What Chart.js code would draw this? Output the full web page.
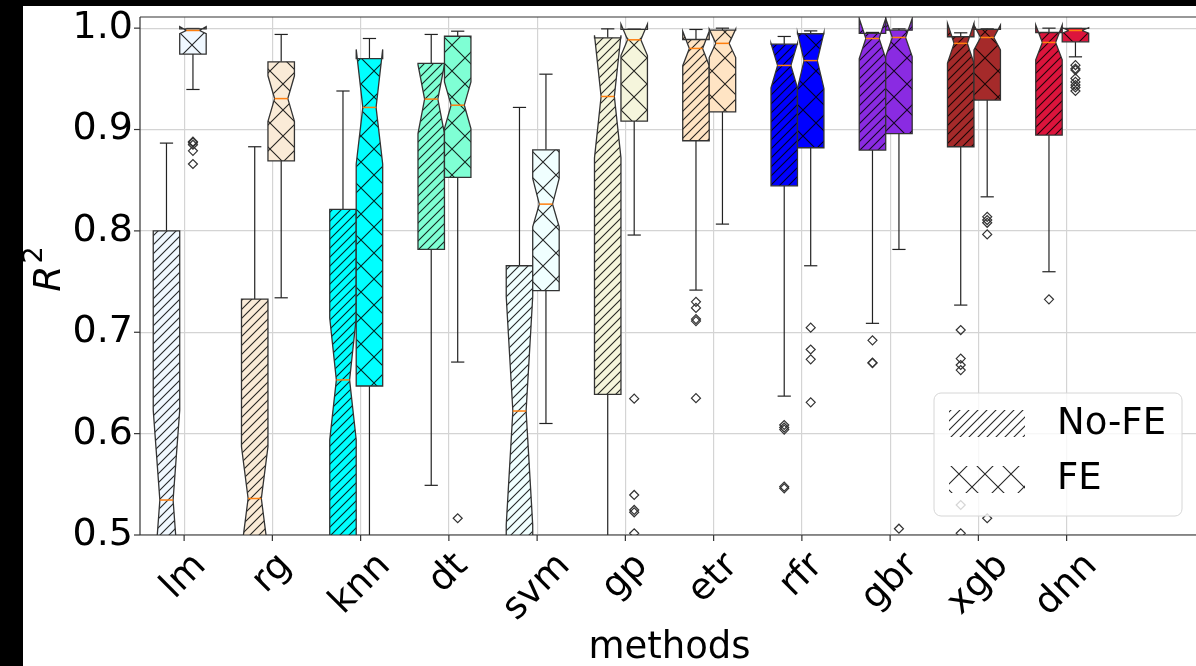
<!DOCTYPE html>
<html>
<head>
<meta charset="utf-8">
<title>R2 by method</title>
<script src="https://cdn.jsdelivr.net/npm/chart.js"></script>
<style>
  body { margin: 0; background: #000; overflow: hidden; width: 1196px; height: 666px; }
  .figure { position: absolute; left: 23px; top: 6px; width: 1200px; height: 660px; background: #fff; }
</style>
</head>
<body>
<div class="figure"><canvas id="myChart" width="1200" height="660"></canvas></div>
<script>
const methods = ["lm", "rg", "knn", "dt", "svm", "gp", "etr", "rfr", "gbr", "xgb", "dnn"];
const yTicks = [0.5, 0.6, 0.7, 0.8, 0.9, 1.0];

// No-FE boxes (whisker ends, quartiles, notch limits, median)
const noFeWhisLo = [0.05, 0.05, 0.1, 0.549, 0.1, 0.2, 0.7416, 0.637, 0.7088, 0.7268, 0.7597];
const noFeQ1 = [0.32, 0.3, 0.42, 0.7817, 0.35, 0.6388, 0.8889, 0.8445, 0.8797, 0.883, 0.8945];
const noFeCiLo = [0.446, 0.485, 0.594, 0.896, 0.51, 0.872, 0.963, 0.941, 0.97, 0.9654, 0.9688];
const noFeMed = [0.5345, 0.536, 0.653, 0.93, 0.6223, 0.9326, 0.98, 0.9632, 0.9898, 0.985, 0.9859];
const noFeCiHi = [0.623, 0.587, 0.714, 0.964, 0.735, 0.993, 0.997, 0.985, 1.0095, 1.0046, 1.003];
const noFeQ3 = [0.8, 0.7327, 0.8212, 0.9652, 0.7656, 0.9905, 0.9888, 0.9842, 0.9948, 0.9915, 0.9957];
const noFeWhisHi = [0.8866, 0.883, 0.938, 0.9938, 0.9218, 0.9993, 0.9987, 0.9918, 0.9958, 0.9954, 1.0];
const noFeOutliers = [[], [], [], [], [], [],
  [0.73, 0.724, 0.713, 0.711, 0.635],
  [0.6085, 0.606, 0.604, 0.5477, 0.546],
  [0.692, 0.67, 0.6696],
  [0.7022, 0.674, 0.6677, 0.6627, 0.5296, 0.5017],
  [0.7325]];

// FE boxes
const feWhisLo = [0.9395, 0.734, 0.2, 0.6706, 0.61, 0.7959, 0.8067, 0.7656, 0.7817, 0.8336, 0.9717];
const feQ1 = [0.9744, 0.869, 0.647, 0.8527, 0.741, 0.9083, 0.9175, 0.882, 0.896, 0.929, 0.9865];
const feCiLo = [0.9945, 0.908, 0.866, 0.901, 0.804, 0.973, 0.971, 0.9405, 0.972, 0.9786, 0.995];
const feMed = [0.9977, 0.9305, 0.9218, 0.924, 0.8264, 0.9885, 0.985, 0.968, 0.9908, 0.9908, 0.9977];
const feCiHi = [1.0015, 0.953, 0.979, 0.947, 0.8518, 1.004, 0.999, 0.9955, 1.0095, 1.003, 1.0005];
const feQ3 = [0.9993, 0.9668, 0.97, 0.992, 0.88, 0.9987, 0.998, 0.9945, 0.998, 0.9987, 0.9997];
const feWhisHi = [0.9997, 0.9938, 0.9898, 0.997, 0.9546, 0.999, 1.0, 0.9973, 0.9993, 0.9993, 0.9997];
const feOutliers = [
  [0.888, 0.887, 0.885, 0.879, 0.866],
  [], [],
  [0.5165],
  [],
  [0.6345, 0.5395, 0.5247, 0.5224, 0.5017],
  [],
  [0.7045, 0.683, 0.6733, 0.6309],
  [0.5062],
  [0.8139, 0.8107, 0.808, 0.7965, 0.5165],
  [0.9635, 0.96, 0.9586, 0.9504, 0.947, 0.9438, 0.9415, 0.938]];

const boxColors = ["#f0f8ff", "#faebd7", "#00ffff", "#7fffd4", "#f0ffff", "#f5f5dc",
  "#ffe4c4", "#0000ff", "#8a2be2", "#a52a2a", "#dc143c"];

const FONT = '"DejaVu Sans", sans-serif';
const boxWidth = 0.3;
const noFeShift = -0.2;
const feShift = 0.1;

//outlier points for the scatter datasets
const toPoints = (lists, shift) =>
  lists.flatMap((vals, i) => vals.map((v) => ({ x: i + 1 + shift, y: v })));

let hatches = null;
function makeHatch(ctx, size, cross) {
  const c = document.createElement("canvas");
  c.width = size;
  c.height = size;
  const g = c.getContext("2d");
  g.strokeStyle = "rgba(0,0,0,0.85)";
  g.lineWidth = 1.1;
  g.beginPath();
  g.moveTo(-1, size + 1); g.lineTo(size + 1, -1);
  g.moveTo(-1, 1); g.lineTo(1, -1);
  g.moveTo(size - 1, size + 1); g.lineTo(size + 1, size - 1);
  if (cross) {
    g.moveTo(-1, -1); g.lineTo(size + 1, size + 1);
    g.moveTo(size - 1, -1); g.lineTo(size + 1, 1);
    g.moveTo(-1, size - 1); g.lineTo(1, size + 1);
  }
  g.stroke();
  return ctx.createPattern(c, "repeat");
}

function line(ctx, x1, y1, x2, y2) {
  ctx.beginPath();
  ctx.moveTo(x1, y1);
  ctx.lineTo(x2, y2);
  ctx.stroke();
}

function drawBox(ctx, x, y, pos, s, color, pattern) {
  const xl = x.getPixelForValue(pos - boxWidth / 2);
  const xr = x.getPixelForValue(pos + boxWidth / 2);
  const cl = x.getPixelForValue(pos - boxWidth / 4);
  const cr = x.getPixelForValue(pos + boxWidth / 4);
  const xc = x.getPixelForValue(pos);
  const py = (v) => y.getPixelForValue(v);

  // whiskers + caps
  ctx.strokeStyle = "#222";
  ctx.lineWidth = 1.2;
  line(ctx, xc, py(s.q1), xc, py(s.lo));
  line(ctx, xc, py(s.q3), xc, py(s.hi));
  line(ctx, cl, py(s.lo), cr, py(s.lo));
  line(ctx, cl, py(s.hi), cr, py(s.hi));

  // notched box
  ctx.beginPath();
  ctx.moveTo(xl, py(s.q1));
  ctx.lineTo(xr, py(s.q1));
  ctx.lineTo(xr, py(s.cilo));
  ctx.lineTo(cr, py(s.med));
  ctx.lineTo(xr, py(s.cihi));
  ctx.lineTo(xr, py(s.q3));
  ctx.lineTo(xl, py(s.q3));
  ctx.lineTo(xl, py(s.cihi));
  ctx.lineTo(cl, py(s.med));
  ctx.lineTo(xl, py(s.cilo));
  ctx.closePath();
  ctx.fillStyle = color;
  ctx.fill();
  ctx.fillStyle = pattern;
  ctx.fill();
  ctx.strokeStyle = "#333";
  ctx.lineWidth = 1.3;
  ctx.stroke();

  // median
  ctx.strokeStyle = "#ff7f0e";
  ctx.lineWidth = 1.5;
  line(ctx, cl, py(s.med), cr, py(s.med));
}

const boxPlugin = {
  id: "boxes",
  beforeDatasetsDraw(chart) {
    const { ctx, chartArea, scales } = chart;
    if (!hatches) hatches = { slash: makeHatch(ctx, 9, false), cross: makeHatch(ctx, 26, true) };
    ctx.save();
    ctx.beginPath();
    ctx.rect(chartArea.left, chartArea.top, chartArea.right - chartArea.left, chartArea.bottom - chartArea.top);
    ctx.clip();
    methods.forEach((m, i) => {
      drawBox(ctx, scales.x, scales.y, i + 1 + noFeShift, {
        lo: noFeWhisLo[i], q1: noFeQ1[i], cilo: noFeCiLo[i], med: noFeMed[i],
        cihi: noFeCiHi[i], q3: noFeQ3[i], hi: noFeWhisHi[i],
      }, boxColors[i], hatches.slash);
      drawBox(ctx, scales.x, scales.y, i + 1 + feShift, {
        lo: feWhisLo[i], q1: feQ1[i], cilo: feCiLo[i], med: feMed[i],
        cihi: feCiHi[i], q3: feQ3[i], hi: feWhisHi[i],
      }, boxColors[i], hatches.cross);
    });
    ctx.restore();
  },
  afterDraw(chart) {
    const { ctx, chartArea, scales } = chart;
    const { x, y } = scales;
    ctx.save();

    // spines and tick marks
    ctx.strokeStyle = "#333";
    ctx.lineWidth = 1.2;
    line(ctx, chartArea.left, chartArea.top, chartArea.left, chartArea.bottom);
    line(ctx, chartArea.left, chartArea.bottom, chartArea.right, chartArea.bottom);
    line(ctx, chartArea.left, chartArea.top, chartArea.right, chartArea.top);
    line(ctx, chartArea.right, chartArea.top, chartArea.right, chartArea.bottom);
    yTicks.forEach((v) => {
      const p = y.getPixelForValue(v);
      line(ctx, chartArea.left - 6, p, chartArea.left, p);
    });
    methods.forEach((m, i) => {
      const p = x.getPixelForValue(i + 1);
      line(ctx, p, chartArea.bottom, p, chartArea.bottom + 6);
    });

    // rotated category labels, centred under each tick
    ctx.fillStyle = "#000";
    ctx.font = "37px " + FONT;
    ctx.textAlign = "center";
    ctx.textBaseline = "middle";
    methods.forEach((m, i) => {
      const w = ctx.measureText(m).width;
      const cy = chartArea.bottom + 10 + ((w + 43) * Math.SQRT1_2) / 2;
      ctx.save();
      ctx.translate(x.getPixelForValue(i + 1), cy);
      ctx.rotate(-Math.PI / 4);
      ctx.fillText(m, 0, 0);
      ctx.restore();
    });

    // axis titles
    ctx.textBaseline = "alphabetic";
    ctx.fillText("methods", (chartArea.left + chartArea.right) / 2, chartArea.bottom + 123);

    ctx.save();
    ctx.translate(37, (chartArea.top + chartArea.bottom) / 2 - 7);
    ctx.rotate(-Math.PI / 2);
    ctx.textAlign = "left";
    ctx.font = "italic 38px " + FONT;
    const rw = ctx.measureText("R").width;
    ctx.font = "27px " + FONT;
    const sw = ctx.measureText("2").width;
    const start = -(rw + sw + 2) / 2;
    ctx.font = "italic 38px " + FONT;
    ctx.fillText("R", start, 0);
    ctx.font = "27px " + FONT;
    ctx.fillText("2", start + rw + 2, -18);
    ctx.restore();

    // legend
    const lgW = 248, lgH = 123;
    const lx = chartArea.right - 17 - lgW;
    const ly = chartArea.bottom - 19 - lgH;
    ctx.beginPath();
    ctx.roundRect(lx, ly, lgW, lgH, 7);
    ctx.fillStyle = "rgba(255,255,255,0.8)";
    ctx.fill();
    ctx.strokeStyle = "#d6d6d6";
    ctx.lineWidth = 1;
    ctx.stroke();
    ctx.fillStyle = hatches.slash;
    ctx.fillRect(lx + 15, ly + 17, 76, 27);
    ctx.fillStyle = hatches.cross;
    ctx.fillRect(lx + 15, ly + 73, 76, 27);
    ctx.fillStyle = "#000";
    ctx.font = "37px " + FONT;
    ctx.textAlign = "left";
    ctx.textBaseline = "middle";
    ctx.fillText("No-FE", lx + 123, ly + 31);
    ctx.fillText("FE", lx + 123, ly + 86);

    ctx.restore();
  },
};

let myChart = new Chart(document.getElementById("myChart").getContext("2d"), {
  type: "scatter",
  data: {
    datasets: [
      {
        label: "No-FE",
        data: toPoints(noFeOutliers, noFeShift),
        pointStyle: "rectRot",
        radius: 4.5,
        borderColor: "#333",
        borderWidth: 1.2,
        backgroundColor: "rgba(0,0,0,0)",
      },
      {
        label: "FE",
        data: toPoints(feOutliers, feShift),
        pointStyle: "rectRot",
        radius: 4.5,
        borderColor: "#333",
        borderWidth: 1.2,
        backgroundColor: "rgba(0,0,0,0)",
      },
    ],
  },
  options: {
    responsive: false,
    animation: false,
    events: [],
    layout: {
      padding: { top: 11, right: 24, left: 0, bottom: 0 },
    },
    plugins: {
      legend: { display: false },
      tooltip: { enabled: false },
    },
    scales: {
      x: {
        type: "linear",
        min: 0.5,
        max: 12.5,
        afterBuildTicks: (scale) => {
          scale.ticks = methods.map((m, i) => ({ value: i + 1 }));
        },
        afterFit: (scale) => {
          scale.height = 131;
        },
        ticks: { display: false },
        grid: { color: "#d4d4d4", lineWidth: 1.2, drawTicks: false },
        border: { display: false },
      },
      y: {
        min: 0.5,
        max: 1.011,
        afterBuildTicks: (scale) => {
          scale.ticks = yTicks.map((v) => ({ value: v }));
        },
        afterFit: (scale) => {
          scale.width = 117;
          scale.paddingTop = 0;
          scale.paddingBottom = 0;
        },
        ticks: {
          padding: 7,
          color: "#000",
          font: { family: "DejaVu Sans", size: 38 },
          callback: (value) => value.toFixed(1),
        },
        grid: { color: "#d4d4d4", lineWidth: 1.2, drawTicks: false },
        border: { display: false },
      },
    },
  },
  plugins: [boxPlugin],
});
</script>
</body>
</html>
